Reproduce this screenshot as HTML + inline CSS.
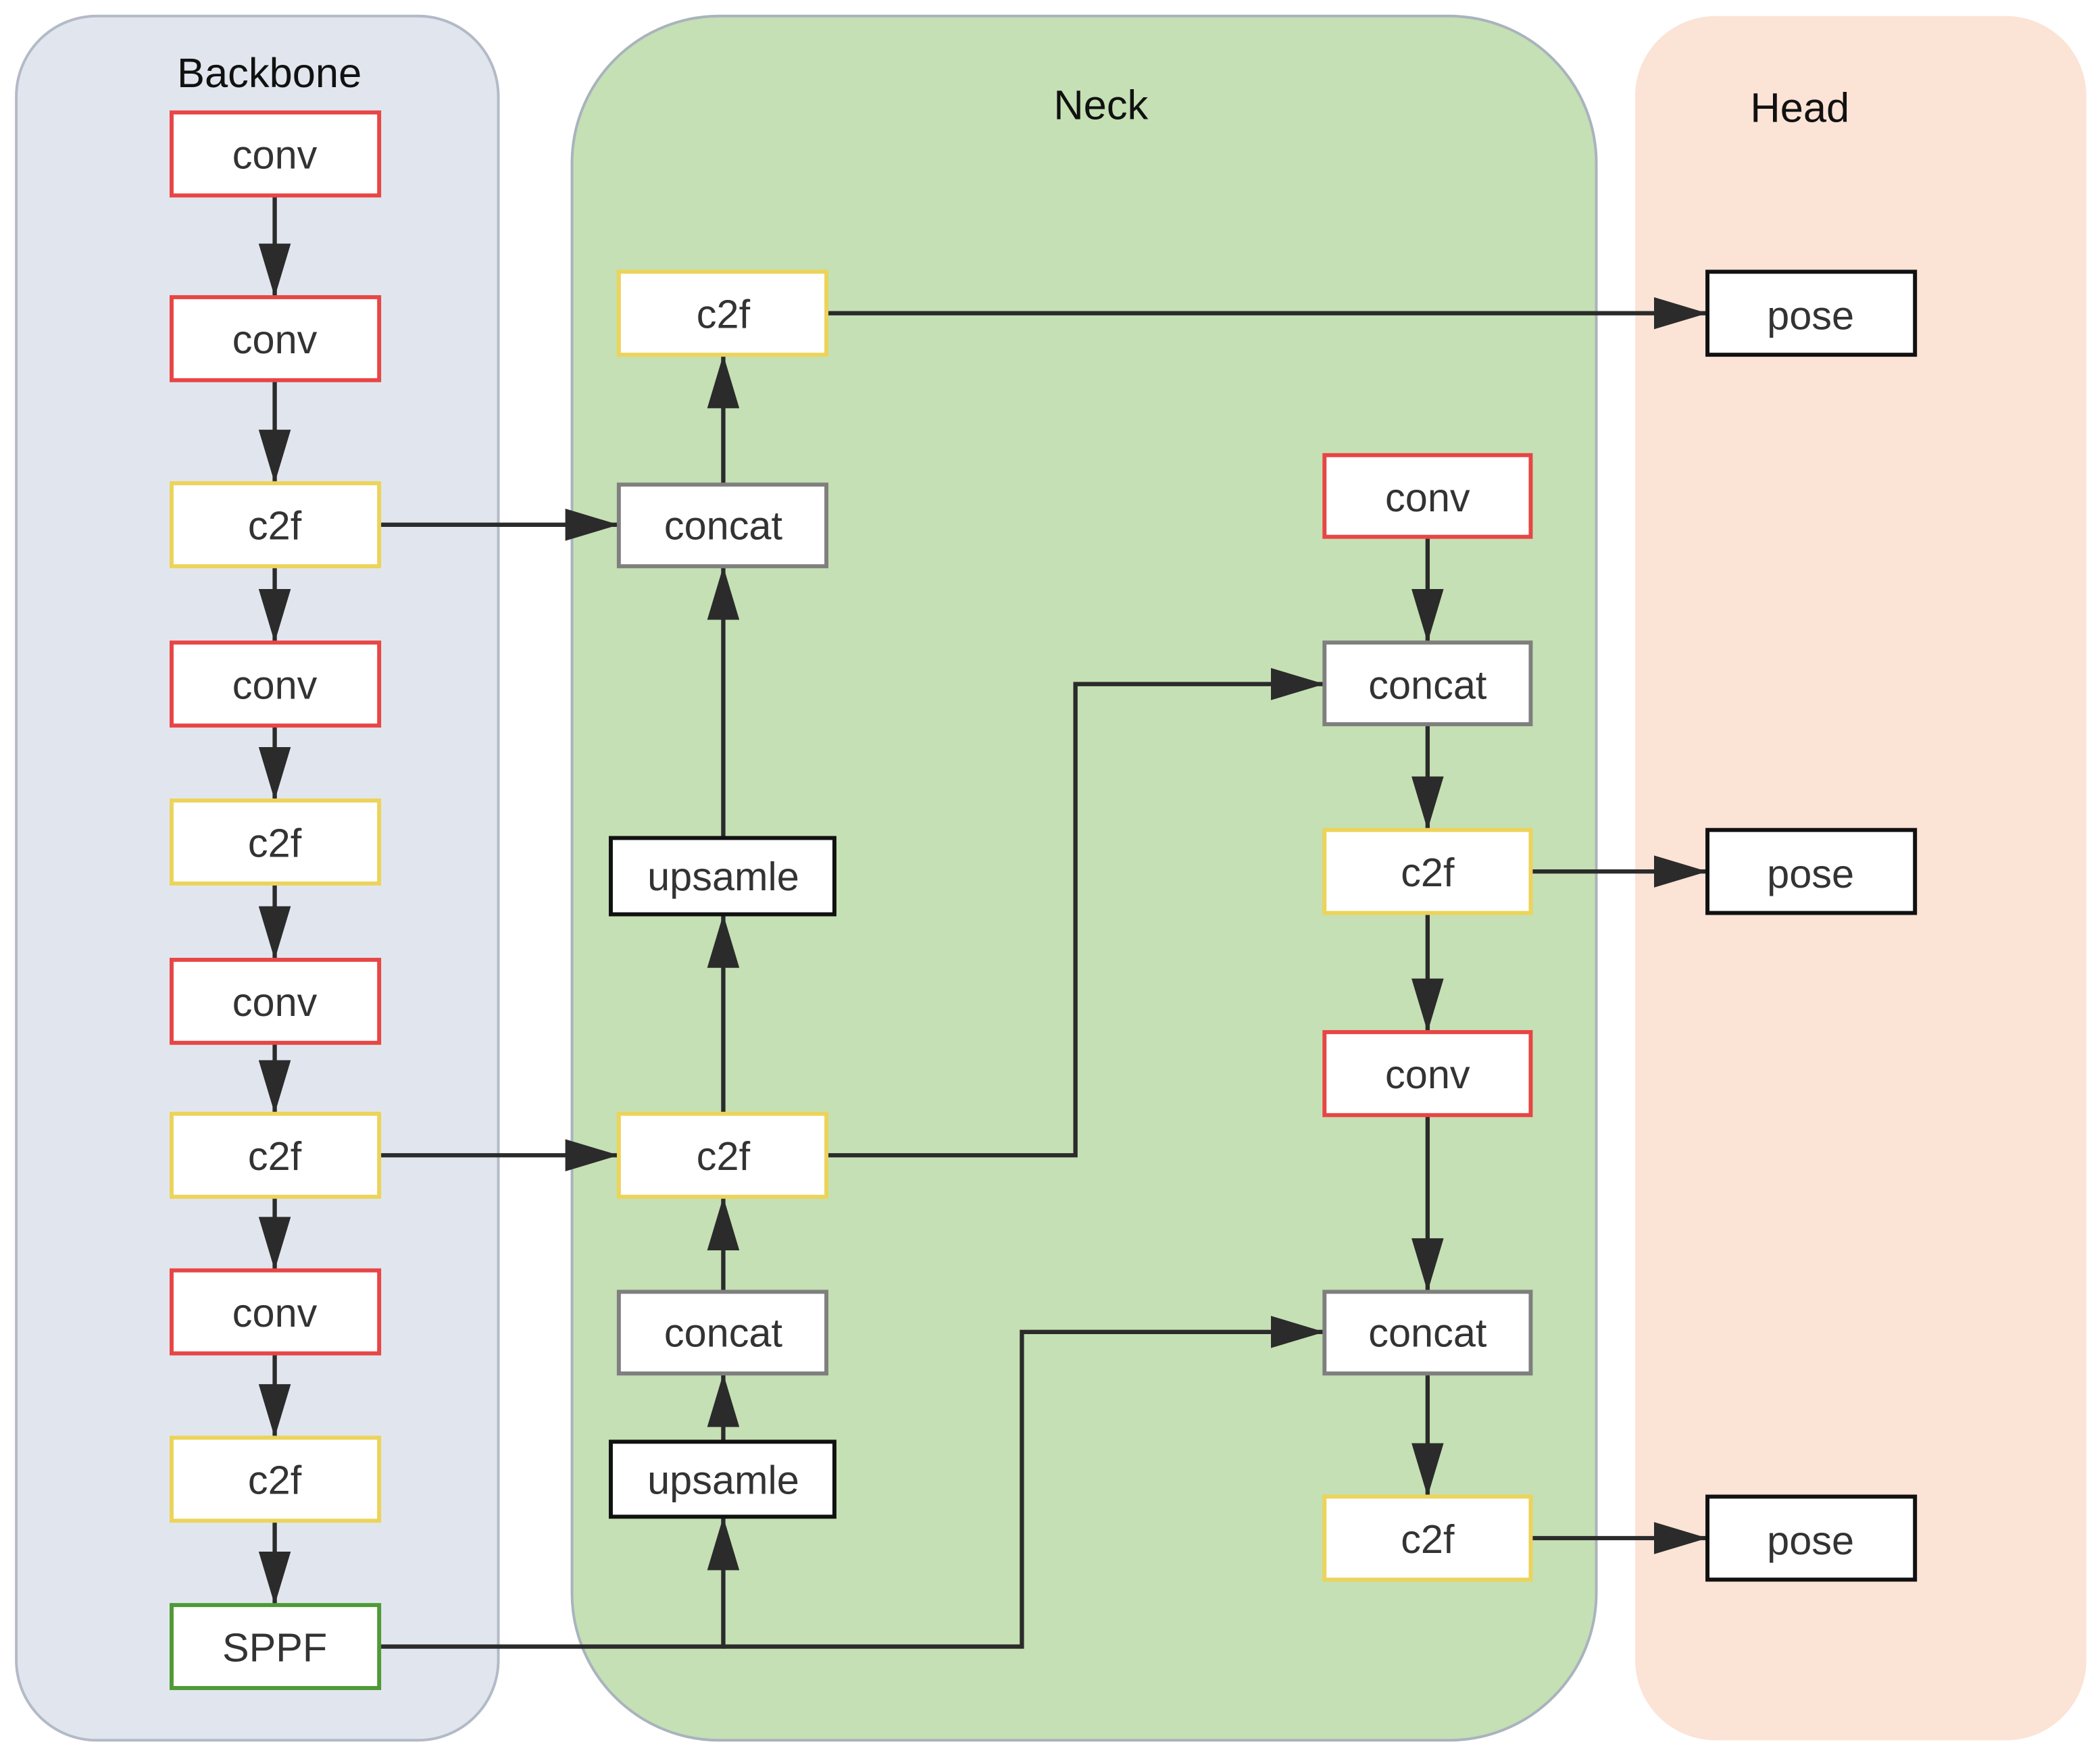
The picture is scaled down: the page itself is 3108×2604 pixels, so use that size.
<!DOCTYPE html>
<html><head><meta charset="utf-8"><style>html,body{margin:0;padding:0;background:#fff}svg{display:block}</style></head>
<body>
<svg width="3108" height="2604" viewBox="0 0 1568 1314" xmlns="http://www.w3.org/2000/svg" font-family="Liberation Sans, DejaVu Sans, sans-serif">
<defs>
<marker id="a" viewBox="0 0 40 24" refX="40" refY="12" markerWidth="40" markerHeight="24" markerUnits="userSpaceOnUse" orient="auto">
<path d="M0,0 L40,12 L0,24 z" fill="#2b2b2b"/></marker>
</defs>
<rect x="12" y="12" width="360" height="1288" rx="60" fill="#e1e6ee" stroke="#b3bac7" stroke-width="2"/>
<rect x="427" y="12" width="765" height="1288" rx="110" fill="#c5e0b4" stroke="#a9b3bd" stroke-width="2"/>
<rect x="1221" y="12" width="337" height="1288" rx="60" fill="#fbe3d6"/>
<g font-size="31" fill="#111" text-anchor="middle">
<text x="201" y="65">Backbone</text>
<text x="822" y="89">Neck</text>
<text x="1344" y="91">Head</text>
</g>
<g stroke="#2b2b2b" stroke-width="3.2" fill="none" marker-end="url(#a)">
<line x1="205" y1="146" x2="205" y2="222"/>
<line x1="205" y1="284" x2="205" y2="361"/>
<line x1="205" y1="423" x2="205" y2="480"/>
<line x1="205" y1="542" x2="205" y2="598"/>
<line x1="205" y1="660" x2="205" y2="717"/>
<line x1="205" y1="779" x2="205" y2="832"/>
<line x1="205" y1="894" x2="205" y2="949"/>
<line x1="205" y1="1011" x2="205" y2="1074"/>
<line x1="205" y1="1136" x2="205" y2="1199"/>
<line x1="283" y1="392" x2="462" y2="392"/>
<line x1="283" y1="863" x2="462" y2="863"/>
<polyline points="617,863 803,863 803,511 989,511"/>
<polyline points="283,1230 540,1230 540,1133"/>
<polyline points="540,1230 763,1230 763,995 989,995"/>
<line x1="540" y1="1077" x2="540" y2="1026"/>
<line x1="540" y1="965" x2="540" y2="894"/>
<line x1="540" y1="832" x2="540" y2="683"/>
<line x1="540" y1="626" x2="540" y2="423"/>
<line x1="540" y1="362" x2="540" y2="265"/>
<line x1="617" y1="234" x2="1275" y2="234"/>
<line x1="1066" y1="401" x2="1066" y2="480"/>
<line x1="1066" y1="541" x2="1066" y2="620"/>
<line x1="1066" y1="682" x2="1066" y2="771"/>
<line x1="1066" y1="833" x2="1066" y2="965"/>
<line x1="1066" y1="1026" x2="1066" y2="1118"/>
<line x1="1143" y1="651" x2="1275" y2="651"/>
<line x1="1143" y1="1149" x2="1275" y2="1149"/>
</g>
<g fill="#fff" stroke-width="3">
<rect x="128" y="84" width="155" height="62" stroke="#e84545"/>
<rect x="128" y="222" width="155" height="62" stroke="#e84545"/>
<rect x="128" y="361" width="155" height="62" stroke="#ecd35a"/>
<rect x="128" y="480" width="155" height="62" stroke="#e84545"/>
<rect x="128" y="598" width="155" height="62" stroke="#ecd35a"/>
<rect x="128" y="717" width="155" height="62" stroke="#e84545"/>
<rect x="128" y="832" width="155" height="62" stroke="#ecd35a"/>
<rect x="128" y="949" width="155" height="62" stroke="#e84545"/>
<rect x="128" y="1074" width="155" height="62" stroke="#ecd35a"/>
<rect x="128" y="1199" width="155" height="62" stroke="#4f9a35"/>
<rect x="462" y="203" width="155" height="62" stroke="#ecd35a"/>
<rect x="462" y="362" width="155" height="61" stroke="#7f7f7f"/>
<rect x="456" y="626" width="167" height="57" stroke="#111"/>
<rect x="462" y="832" width="155" height="62" stroke="#ecd35a"/>
<rect x="462" y="965" width="155" height="61" stroke="#7f7f7f"/>
<rect x="456" y="1077" width="167" height="56" stroke="#111"/>
<rect x="989" y="340" width="154" height="61" stroke="#e84545"/>
<rect x="989" y="480" width="154" height="61" stroke="#7f7f7f"/>
<rect x="989" y="620" width="154" height="62" stroke="#ecd35a"/>
<rect x="989" y="771" width="154" height="62" stroke="#e84545"/>
<rect x="989" y="965" width="154" height="61" stroke="#7f7f7f"/>
<rect x="989" y="1118" width="154" height="62" stroke="#ecd35a"/>
<rect x="1275" y="203" width="155" height="62" stroke="#111"/>
<rect x="1275" y="620" width="155" height="62" stroke="#111"/>
<rect x="1275" y="1118" width="155" height="62" stroke="#111"/>
</g>
<g font-size="30" fill="#333" text-anchor="middle">
<text x="205" y="126">conv</text>
<text x="205" y="264">conv</text>
<text x="205" y="403">c2f</text>
<text x="205" y="522">conv</text>
<text x="205" y="640">c2f</text>
<text x="205" y="759">conv</text>
<text x="205" y="874">c2f</text>
<text x="205" y="991">conv</text>
<text x="205" y="1116">c2f</text>
<text x="205" y="1241">SPPF</text>
<text x="540" y="245">c2f</text>
<text x="540" y="403">concat</text>
<text x="540" y="665">upsamle</text>
<text x="540" y="874">c2f</text>
<text x="540" y="1006">concat</text>
<text x="540" y="1116">upsamle</text>
<text x="1066" y="382">conv</text>
<text x="1066" y="522">concat</text>
<text x="1066" y="662">c2f</text>
<text x="1066" y="813">conv</text>
<text x="1066" y="1006">concat</text>
<text x="1066" y="1160">c2f</text>
<text x="1352" y="246">pose</text>
<text x="1352" y="663">pose</text>
<text x="1352" y="1161">pose</text>
</g>
</svg>
</body></html>
